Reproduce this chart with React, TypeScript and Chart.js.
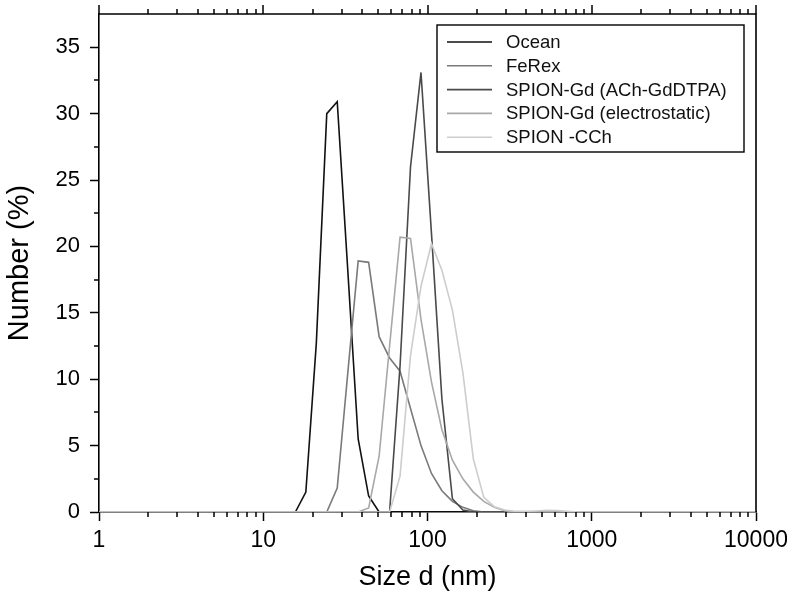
import React, { useEffect, useRef } from "react";
import { Chart, registerables } from "chart.js";

Chart.register(...registerables);

// DLS size bins (nm)
const sizes = [
  0.9647, 1.117, 1.294, 1.499, 1.736, 2.01, 2.328, 2.696, 3.122, 3.615,
  4.187, 4.849, 5.615, 6.503, 7.531, 8.721, 10.1, 11.7, 13.54, 15.69,
  18.17, 21.04, 24.36, 28.21, 32.67, 37.84, 43.82, 50.75, 58.77, 68.06,
  78.82, 91.28, 105.7, 122.4, 141.8, 164.2, 190.1, 220.2, 255.0, 295.3,
  342.0, 396.1, 458.7, 531.2, 615.1, 712.4, 825.0, 955.4, 1106, 1281,
  1484, 1718, 1990, 2305, 2669, 3091, 3580, 4145, 4801, 5560,
  6439, 7456, 8635, 10000,
];

const ocean = [
  0, 0, 0, 0, 0, 0, 0, 0, 0, 0,
  0, 0, 0, 0, 0, 0, 0, 0, 0, 0,
  1.5, 12.7, 30.0, 30.9, 18.3, 5.5, 1.2, 0, 0, 0,
  0, 0, 0, 0, 0, 0, 0, 0, 0, 0,
  0, 0, 0, 0, 0, 0, 0, 0, 0, 0,
  0, 0, 0, 0, 0, 0, 0, 0, 0, 0,
  0, 0, 0, 0,
];

const ferex = [
  0, 0, 0, 0, 0, 0, 0, 0, 0, 0,
  0, 0, 0, 0, 0, 0, 0, 0, 0, 0,
  0, 0, 0, 1.8, 10.4, 18.9, 18.8, 13.2, 11.6, 10.6,
  7.8, 5.0, 2.9, 1.6, 0.8, 0.35, 0.1, 0, 0, 0,
  0, 0, 0, 0, 0, 0, 0, 0, 0, 0,
  0, 0, 0, 0, 0, 0, 0, 0, 0, 0,
  0, 0, 0, 0,
];

const spionAch = [
  0, 0, 0, 0, 0, 0, 0, 0, 0, 0,
  0, 0, 0, 0, 0, 0, 0, 0, 0, 0,
  0, 0, 0, 0, 0, 0, 0, 0, 0, 11.0,
  26.0, 33.1, 21.0, 8.5, 1.0, 0.15, 0, 0, 0, 0,
  0, 0, 0, 0, 0, 0, 0, 0, 0, 0,
  0, 0, 0, 0, 0, 0, 0, 0, 0, 0,
  0, 0, 0, 0,
];

const spionElectro = [
  0, 0, 0, 0, 0, 0, 0, 0, 0, 0,
  0, 0, 0, 0, 0, 0, 0, 0, 0, 0,
  0, 0, 0, 0, 0, 0, 0.3, 4.2, 12.5, 20.7,
  20.6, 14.5, 9.8, 6.2, 3.9, 2.5, 1.5, 0.8, 0.35, 0.1,
  0, 0, 0, 0, 0, 0, 0, 0, 0, 0,
  0, 0, 0, 0, 0, 0, 0, 0, 0, 0,
  0, 0, 0, 0,
];

const spionCch = [
  0, 0, 0, 0, 0, 0, 0, 0, 0, 0,
  0, 0, 0, 0, 0, 0, 0, 0, 0, 0,
  0, 0, 0, 0, 0, 0, 0, 0, 0, 2.7,
  11.8, 17.0, 20.2, 18.2, 15.2, 10.5, 4.0, 1.1, 0.4, 0.15,
  0.05, 0.05, 0.08, 0.12, 0.1, 0.05, 0, 0, 0, 0,
  0, 0, 0, 0, 0, 0, 0, 0, 0, 0,
  0, 0, 0, 0,
];

const seriesLabels = [
  "Ocean",
  "FeRex",
  "SPION-Gd (ACh-GdDTPA)",
  "SPION-Gd (electrostatic)",
  "SPION -CCh",
];
const seriesValues = [ocean, ferex, spionAch, spionElectro, spionCch];
const seriesColors = ["#111111", "#7a7a7a", "#4a4a4a", "#a8a8a8", "#cdcdcd"];

const xTickValues = [1, 10, 100, 1000, 10000];
const xTickLabels = ["1", "10", "100", "1000", "10000"];
const xDecades = [1, 10, 100, 1000];
const xMinorMultipliers = [2, 3, 4, 5, 6, 7, 8, 9];
const yTickValues = [0, 5, 10, 15, 20, 25, 30, 35];
const yMinorTicks = [2.5, 7.5, 12.5, 17.5, 22.5, 27.5, 32.5];

const FONT = "'Liberation Sans', Arial, Helvetica, sans-serif";

const framePlugin = {
  id: "frame",
  afterDraw(chart: any) {
    const { ctx, chartArea: a, scales } = chart;
    const xs = scales.x;
    const ys = scales.y;
    ctx.save();
    ctx.strokeStyle = "#000";
    ctx.lineWidth = 1.6;
    ctx.beginPath();
    ctx.moveTo(a.left, a.top);
    ctx.lineTo(a.right, a.top);
    ctx.lineTo(a.right, a.bottom);
    ctx.stroke();

    ctx.lineWidth = 1.5;
    ctx.beginPath();
    for (const v of xTickValues) {
      const px = Math.round(xs.getPixelForValue(v));
      ctx.moveTo(px, a.top);
      ctx.lineTo(px, a.top - 9);
    }
    for (const d of xDecades) {
      for (const m of xMinorMultipliers) {
        const px = Math.round(xs.getPixelForValue(d * m));
        ctx.moveTo(px, a.top);
        ctx.lineTo(px, a.top - 5);
        ctx.moveTo(px, a.bottom);
        ctx.lineTo(px, a.bottom + 5);
      }
    }
    for (const v of yMinorTicks) {
      const py = Math.round(ys.getPixelForValue(v));
      ctx.moveTo(a.left, py);
      ctx.lineTo(a.left - 5, py);
    }
    ctx.stroke();

    // legend
    const boxRight = a.right - 12;
    const boxLeft = boxRight - 307;
    const boxTop = a.top + 11;
    const rowH = 23.8;
    const boxBottom = boxTop + 127;
    ctx.fillStyle = "#fff";
    ctx.fillRect(boxLeft, boxTop, boxRight - boxLeft, boxBottom - boxTop);
    ctx.strokeStyle = "#000";
    ctx.lineWidth = 1.4;
    ctx.strokeRect(boxLeft, boxTop, boxRight - boxLeft, boxBottom - boxTop);
    ctx.font = `18.5px ${FONT}`;
    ctx.textBaseline = "middle";
    ctx.textAlign = "left";
    chart.data.datasets.forEach((ds: any, i: number) => {
      const cy = boxTop + 17 + i * rowH;
      ctx.strokeStyle = ds.borderColor;
      ctx.lineWidth = 1.6;
      ctx.beginPath();
      ctx.moveTo(boxLeft + 10, cy);
      ctx.lineTo(boxLeft + 55, cy);
      ctx.stroke();
      ctx.fillStyle = "#111";
      ctx.fillText(ds.label, boxLeft + 69, cy + 1);
    });
    ctx.restore();
  },
};

export default function App() {
  const canvasRef = useRef<HTMLCanvasElement | null>(null);

  useEffect(() => {
    const canvas = canvasRef.current;
    if (!canvas) return;
    const datasets = seriesLabels.map((label, i) => ({
      label,
      data: sizes.map((s, j) => ({ x: s, y: seriesValues[i][j] })),
      borderColor: seriesColors[i],
      backgroundColor: seriesColors[i],
      borderWidth: 1.6,
      pointRadius: 0,
      tension: 0,
      fill: false,
      order: seriesLabels.length - i,
    }));

    const chart = new Chart(canvas, {
      type: "line",
      data: { datasets },
      plugins: [framePlugin],
      options: {
        animation: false,
        responsive: false,
        devicePixelRatio: 1,
        parsing: false as any,
        layout: { padding: { top: 14, right: 31, left: 0, bottom: 0 } },
        plugins: {
          legend: { display: false },
          tooltip: { enabled: false },
          title: { display: false },
        },
        scales: {
          x: {
            type: "logarithmic",
            min: 1,
            max: 10000,
            afterBuildTicks: (scale: any) => {
              scale.ticks = xTickValues.map((v) => ({ value: v }));
            },
            afterFit: (scale: any) => {
              scale.height = 87;
              scale.paddingLeft = 0;
              scale.paddingRight = 0;
            },
            grid: {
              display: true,
              drawOnChartArea: false,
              drawTicks: true,
              tickLength: 9,
              tickColor: "#000",
              tickWidth: 1.5,
            },
            border: { display: true, color: "#000", width: 1.6 },
            ticks: {
              color: "#000",
              font: { family: FONT, size: 23 },
              padding: 6,
              maxRotation: 0,
              autoSkip: false,
              callback: (_v: any, i: number) => xTickLabels[i],
            },
            title: {
              display: true,
              text: "Size d (nm)",
              color: "#000",
              font: { family: FONT, size: 27 },
              padding: { top: 0, bottom: 5 },
            },
          },
          y: {
            type: "linear",
            min: 0,
            max: 37.5,
            afterBuildTicks: (scale: any) => {
              scale.ticks = yTickValues.map((v) => ({ value: v }));
            },
            afterFit: (scale: any) => {
              scale.width = 99;
              scale.paddingTop = 0;
              scale.paddingBottom = 0;
            },
            grid: {
              display: true,
              drawOnChartArea: false,
              drawTicks: true,
              tickLength: 9,
              tickColor: "#000",
              tickWidth: 1.5,
            },
            border: { display: true, color: "#000", width: 1.6 },
            ticks: {
              color: "#000",
              font: { family: FONT, size: 22 },
              padding: 10,
              callback: (v: any) => String(v),
            },
            title: {
              display: true,
              text: "Number (%)",
              color: "#000",
              font: { family: FONT, size: 29 },
              padding: { top: 3, bottom: 0 },
            },
          },
        },
      },
    });
    return () => chart.destroy();
  }, []);

  return (
    <div style={{ position: "fixed", left: 0, top: 0, width: 787, height: 599, background: "#fff" }}>
      <canvas ref={canvasRef} width={787} height={599} style={{ display: "block" }} />
    </div>
  );
}
